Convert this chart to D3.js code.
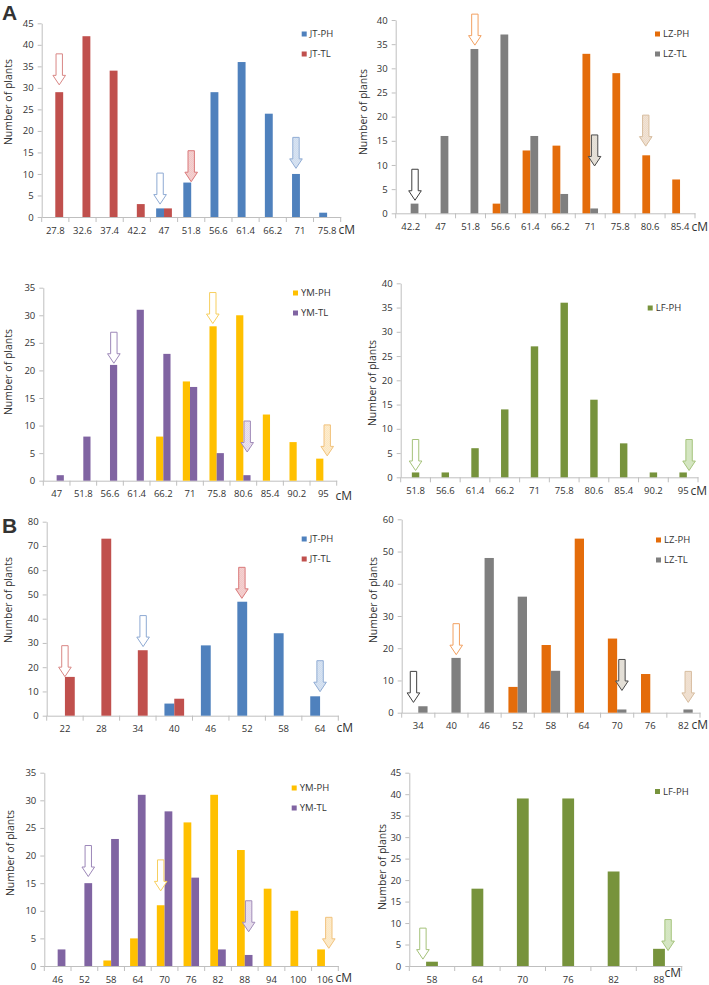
<!DOCTYPE html>
<html>
<head>
<meta charset="utf-8">
<script src="https://cdn.jsdelivr.net/npm/d3@7"></script>
<style>
  body { margin: 0; background: #fff; }
  svg { display: block; }
  text { font-family: "Open Sans", sans-serif; fill: #333; }
</style>
</head>
<body>
<div id="chart"></div>
<script>
// ---- data ----
// A: first map, B: second map. PH = plant height, TL = tiller ...
const catsA1 = ["27.8", "32.6", "37.4", "42.2", "47", "51.8", "56.6", "61.4", "66.2", "71", "75.8"];
const jtPH_A = [0, 0, 0, 0, 2, 8, 29, 36, 24, 10, 1];
const jtTL_A = [29, 42, 34, 3, 2, 0, 0, 0, 0, 0, 0];

const catsA2 = ["42.2", "47", "51.8", "56.6", "61.4", "66.2", "71", "75.8", "80.6", "85.4"];
const lzPH_A = [0, 0, 0, 2, 13, 14, 33, 29, 12, 7];
const lzTL_A = [2, 16, 34, 37, 16, 4, 1, 0, 0, 0];

const catsA3 = ["47", "51.8", "56.6", "61.4", "66.2", "71", "75.8", "80.6", "85.4", "90.2", "95"];
const ymPH_A = [0, 0, 0, 0, 8, 18, 28, 30, 12, 7, 4];
const ymTL_A = [1, 8, 21, 31, 23, 17, 5, 1, 0, 0, 0];

const catsA4 = ["51.8", "56.6", "61.4", "66.2", "71", "75.8", "80.6", "85.4", "90.2", "95"];
const lfPH_A = [1, 1, 6, 14, 27, 36, 16, 7, 1, 1];

const catsB1 = ["22", "28", "34", "40", "46", "52", "58", "64"];
const jtPH_B = [0, 0, 0, 5, 29, 47, 34, 8];
const jtTL_B = [16, 73, 27, 7, 0, 0, 0, 0];

const catsB2 = ["34", "40", "46", "52", "58", "64", "70", "76", "82"];
const lzPH_B = [0, 0, 0, 8, 21, 54, 23, 12, 0];
const lzTL_B = [2, 17, 48, 36, 13, 0, 1, 0, 1];

const catsB3 = ["46", "52", "58", "64", "70", "76", "82", "88", "94", "100", "106"];
const ymPH_B = [0, 0, 1, 5, 11, 26, 31, 21, 14, 10, 3];
const ymTL_B = [3, 15, 23, 31, 28, 16, 3, 2, 0, 0, 0];

const catsB4 = ["58", "64", "70", "76", "82", "88"];
const lfPH_B = [1, 18, 39, 39, 22, 4];

// y axis maximum per panel
const yMaxes = [45, 40, 35, 40, 80, 60, 35, 45];
const ySteps = [5, 5, 5, 5, 10, 10, 5, 5];

// arrows: category, which bar slot, value at the tip, parent series, open or hatched
const arrowsA1 = [
  {cat: "27.8", slot: "TL", tip: 30.7, series: "JT-TL", kind: "open"},
  {cat: "47", slot: "PH", tip: 3.0, series: "JT-PH", kind: "open"},
  {cat: "51.8", slot: "mid", tip: 8.2, series: "JT-TL", kind: "hatch"},
  {cat: "71", slot: "PH", tip: 11.3, series: "JT-PH", kind: "hatch"}
];
const arrowsA2 = [
  {cat: "42.2", slot: "TL", tip: 2.7, series: "LZ-TL", kind: "open"},
  {cat: "51.8", slot: "TL", tip: 34.8, series: "LZ-PH", kind: "open"},
  {cat: "71", slot: "TL", tip: 9.8, series: "LZ-TL", kind: "hatch"},
  {cat: "80.6", slot: "PH", tip: 13.9, series: "LZ-PH", kind: "hatch"}
];
const arrowsA3 = [
  {cat: "56.6", slot: "TL", tip: 21.3, series: "YM-TL", kind: "open"},
  {cat: "75.8", slot: "PH", tip: 28.5, series: "YM-PH", kind: "open"},
  {cat: "80.6", slot: "TL", tip: 5.2, series: "YM-TL", kind: "hatch"},
  {cat: "95", slot: "TL", tip: 4.5, series: "YM-PH", kind: "hatch"}
];
const arrowsA4 = [
  {cat: "51.8", slot: "mid", tip: 1.4, series: "LF-PH", kind: "open"},
  {cat: "95", slot: "TL", tip: 1.4, series: "LF-PH", kind: "hatch"}
];
const arrowsB1 = [
  {cat: "22", slot: "mid", tip: 16.1, series: "JT-TL", kind: "open"},
  {cat: "34", slot: "TL", tip: 28.5, series: "JT-PH", kind: "open"},
  {cat: "52", slot: "PH", tip: 48.4, series: "JT-TL", kind: "hatch"},
  {cat: "64", slot: "mid", tip: 9.9, series: "JT-PH", kind: "hatch"}
];
const arrowsB2 = [
  {cat: "34", slot: "PH", tip: 3.2, series: "LZ-TL", kind: "open"},
  {cat: "40", slot: "TL", tip: 18, series: "LZ-PH", kind: "open"},
  {cat: "70", slot: "TL", tip: 6.9, series: "LZ-TL", kind: "hatch"},
  {cat: "82", slot: "TL", tip: 3.2, series: "LZ-PH", kind: "hatch"}
];
const arrowsB3 = [
  {cat: "52", slot: "TL", tip: 16.2, series: "YM-TL", kind: "open"},
  {cat: "70", slot: "PH", tip: 13.6, series: "YM-PH", kind: "open"},
  {cat: "88", slot: "TL", tip: 6.2, series: "YM-TL", kind: "hatch"},
  {cat: "106", slot: "TL", tip: 3.2, series: "YM-PH", kind: "hatch"}
];
const arrowsB4 = [
  {cat: "58", slot: "PH", tip: 1.6, series: "LF-PH", kind: "open"},
  {cat: "88", slot: "TL", tip: 3.6, series: "LF-PH", kind: "hatch"}
];

// ---- styles ----
const barColor = {
  "JT-PH": "#4f81bd", "JT-TL": "#c0504d",
  "LZ-PH": "#e46c0a", "LZ-TL": "#7f7f7f",
  "YM-PH": "#ffc000", "YM-TL": "#8064a2",
  "LF-PH": "#77933c"
};
const arrowLine = {
  "JT-PH": "#8eaad3", "JT-TL": "#d98785",
  "LZ-PH": "#f2a060", "LZ-TL": "#3f3f3f",
  "YM-PH": "#f7cf5e", "YM-TL": "#9c87b8",
  "LF-PH": "#a5c27a"
};
const hatchLine = {
  "JT-PH": "#90acd4", "JT-TL": "#d9797a",
  "LZ-PH": "#d7bd9f", "LZ-TL": "#4a4a4a",
  "YM-PH": "#f1c27c", "YM-TL": "#a18cb9",
  "LF-PH": "#a6c47c"
};
const hatchFill = {
  "JT-PH": "#c3d4ea", "JT-TL": "#eeb9b8",
  "LZ-PH": "#e9d3bd", "LZ-TL": "#d9d3c7",
  "YM-PH": "#fbe1b2", "YM-TL": "#ddd0e4",
  "LF-PH": "#c4dcaa"
};

const layout = [
  {x0: 41.7, x1: 340.7, yTop: 23.3, yBot: 217, f: 0.29, lab: [8, 102], cm: [355, 230], leg: [301.7, 34], letter: "A"},
  {x0: 395.7, x1: 695, yTop: 20, yBot: 213.3, f: 0.26, lab: [363, 112], cm: [708, 227], leg: [655, 34]},
  {x0: 43.3, x1: 336.7, yTop: 287.7, yBot: 480.7, f: 0.27, lab: [8, 372], cm: [352, 496], leg: [293, 293]},
  {x0: 400.7, x1: 698, yTop: 283.3, yBot: 477.3, f: 0.25, lab: [372, 383], cm: [707, 491], leg: [647.7, 308]},
  {x0: 46.7, x1: 338.3, yTop: 521.7, yBot: 715.7, f: 0.27, lab: [8, 600], cm: [353, 728], leg: [301.7, 539], letter: "B"},
  {x0: 401.7, x1: 700, yTop: 519.3, yBot: 712.7, f: 0.28, lab: [373, 600], cm: [708, 725], leg: [656, 540]},
  {x0: 44.3, x1: 338.3, yTop: 772.7, yBot: 966, f: 0.29, lab: [10, 853], cm: [352, 978], leg: [291.7, 788]},
  {x0: 409.3, x1: 681.7, yTop: 772.7, yBot: 966, f: 0.26, lab: [382, 867], cm: [681, 973], leg: [655, 791.5]}
];

const panels = [
  {cats: catsA1, series: [{key: "JT-PH", values: jtPH_A}, {key: "JT-TL", values: jtTL_A}], arrows: arrowsA1},
  {cats: catsA2, series: [{key: "LZ-PH", values: lzPH_A}, {key: "LZ-TL", values: lzTL_A}], arrows: arrowsA2},
  {cats: catsA3, series: [{key: "YM-PH", values: ymPH_A}, {key: "YM-TL", values: ymTL_A}], arrows: arrowsA3},
  {cats: catsA4, series: [{key: "LF-PH", values: lfPH_A}], arrows: arrowsA4},
  {cats: catsB1, series: [{key: "JT-PH", values: jtPH_B}, {key: "JT-TL", values: jtTL_B}], arrows: arrowsB1},
  {cats: catsB2, series: [{key: "LZ-PH", values: lzPH_B}, {key: "LZ-TL", values: lzTL_B}], arrows: arrowsB2},
  {cats: catsB3, series: [{key: "YM-PH", values: ymPH_B}, {key: "YM-TL", values: ymTL_B}], arrows: arrowsB3},
  {cats: catsB4, series: [{key: "LF-PH", values: lfPH_B}], arrows: arrowsB4}
];

const width = 709;
const height = 985;
const axisColor = "#bfbfbf";

const svg = d3.select("#chart").append("svg")
  .attr("width", width)
  .attr("height", height);

// checkered fill for the hatched arrows
const defs = svg.append("defs");
Object.keys(hatchFill).forEach(k => {
  let p = defs.append("pattern")
    .attr("id", "hatch-" + k)
    .attr("patternUnits", "userSpaceOnUse")
    .attr("width", 2)
    .attr("height", 2);
  p.append("rect").attr("width", 2).attr("height", 2).attr("fill", hatchFill[k]);
  p.append("rect").attr("width", 1).attr("height", 1).attr("fill", "#fff").attr("opacity", 0.55);
  p.append("rect").attr("x", 1).attr("y", 1).attr("width", 1).attr("height", 1).attr("fill", "#fff").attr("opacity", 0.55);
});

// down arrow with its tip at (0,0)
function arrowPath() {
  let sw = 3.2, hw = 6.3, hh = 9.5, len = 31;
  return "M" + (-sw) + "," + (-len) + "L" + sw + "," + (-len) + "L" + sw + "," + (-hh) +
    "L" + hw + "," + (-hh) + "L0,0L" + (-hw) + "," + (-hh) + "L" + (-sw) + "," + (-hh) + "Z";
}

panels.forEach((p, i) => drawPanel(p, layout[i], yMaxes[i], ySteps[i]));

function drawPanel(p, L, yMax, step) {
  let g = svg.append("g");
  let n = p.series.length;
  let pad = 1 - n * L.f;

  let x = d3.scaleBand()
    .domain(p.cats)
    .range([L.x0, L.x1])
    .paddingInner(pad)
    .paddingOuter(pad / 2);

  let xInner = d3.scaleBand()
    .domain(p.series.map(s => s.key))
    .range([0, x.bandwidth()]);

  let y = d3.scaleLinear()
    .domain([0, yMax])
    .range([L.yBot, L.yTop]);

  // y axis
  let yAxis = d3.axisLeft(y)
    .tickValues(d3.range(0, yMax + step, step))
    .tickSize(4)
    .tickSizeOuter(0)
    .tickPadding(4);
  let ya = g.append("g")
    .attr("transform", "translate(" + L.x0 + ",0)")
    .call(yAxis);
  ya.selectAll("path, line").attr("stroke", axisColor);
  ya.selectAll("text").attr("font-size", "9.5px").attr("fill", "#333").style("font-family", "'Open Sans', sans-serif");

  // x axis, labels only, ticks at category boundaries
  let xAxis = d3.axisBottom(x).tickSize(0).tickSizeOuter(0).tickPadding(10);
  let xa = g.append("g")
    .attr("transform", "translate(0," + L.yBot + ")")
    .call(xAxis);
  xa.select("path").attr("stroke", axisColor);
  xa.selectAll("text").attr("font-size", "9.5px").attr("fill", "#333").style("font-family", "'Open Sans', sans-serif");

  let edges = p.cats.map(c => x(c) - x.step() * pad / 2);
  edges.push(L.x1);
  g.selectAll(".edge")
    .data(edges)
    .enter().append("line")
    .attr("x1", d => d).attr("x2", d => d)
    .attr("y1", L.yBot).attr("y2", L.yBot + 5)
    .attr("stroke", axisColor);

  // bars
  p.series.forEach(s => {
    g.selectAll(".bar-" + s.key)
      .data(s.values)
      .enter().append("rect")
      .attr("x", (d, j) => x(p.cats[j]) + xInner(s.key))
      .attr("y", d => y(d))
      .attr("width", xInner.bandwidth())
      .attr("height", d => L.yBot - y(d))
      .attr("fill", barColor[s.key]);
  });

  // arrows
  let slotOff = n === 2 ? 0.145 : 0.2;
  g.selectAll(".arrow")
    .data(p.arrows)
    .enter().append("path")
    .attr("d", arrowPath())
    .attr("transform", d => {
      let cx = x(d.cat) + x.bandwidth() / 2;
      if (d.slot === "PH") cx -= x.step() * slotOff;
      if (d.slot === "TL") cx += x.step() * slotOff;
      return "translate(" + cx + "," + y(d.tip) + ")";
    })
    .attr("fill", d => d.kind === "open" ? "#fff" : "url(#hatch-" + d.series + ")")
    .attr("stroke", d => d.kind === "open" ? arrowLine[d.series] : hatchLine[d.series])
    .attr("stroke-width", 1);

  // legend
  let leg = g.selectAll(".leg")
    .data(p.series)
    .enter().append("g")
    .attr("transform", (d, j) => "translate(" + L.leg[0] + "," + (L.leg[1] + j * 20) + ")");
  leg.append("rect")
    .attr("x", 0).attr("y", -2.5)
    .attr("width", 5).attr("height", 5)
    .attr("fill", d => barColor[d.key]);
  leg.append("text")
    .attr("x", 8)
    .attr("dy", "0.35em")
    .attr("font-size", "9.5px")
    .text(d => d.key);

  // axis titles
  g.append("text")
    .attr("transform", "translate(" + L.lab[0] + "," + L.lab[1] + ") rotate(-90)")
    .attr("text-anchor", "middle")
    .attr("dy", "0.35em")
    .attr("font-size", "10.5px")
    .text("Number of plants");

  g.append("text")
    .attr("x", L.cm[0])
    .attr("y", L.cm[1])
    .attr("dy", "0.35em")
    .attr("text-anchor", "end")
    .attr("font-size", "12px")
    .text("cM");

  if (L.letter) {
    g.append("text")
      .attr("x", 2)
      .attr("y", L.letter === "A" ? 20 : 533)
      .attr("font-size", "21px")
      .attr("font-weight", "bold")
      .style("font-family", "'Liberation Sans', Arial, sans-serif")
      .attr("fill", "#000")
      .text(L.letter);
  }
}
</script>
</body>
</html>
